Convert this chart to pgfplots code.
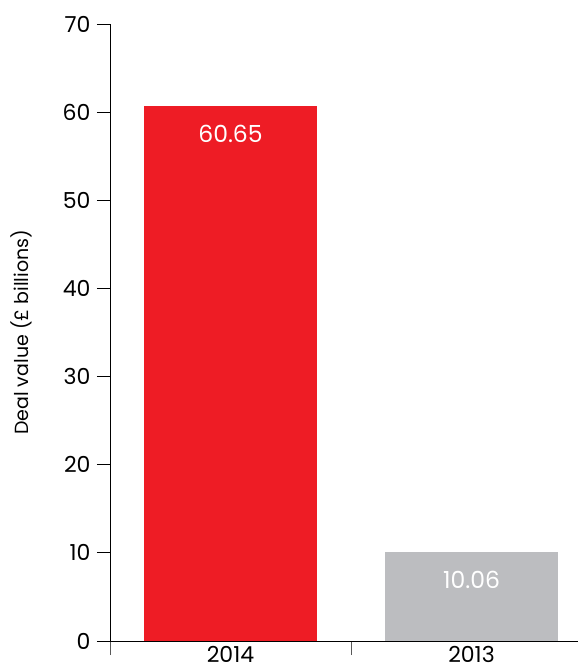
\documentclass[border=0pt]{standalone}
\usepackage{fontspec}
\setmainfont{Poppins}
\usepackage{pgfplots}
\pgfplotsset{compat=1.18}

\definecolor{dealred}{HTML}{EE1C25}
\definecolor{dealgrey}{HTML}{BCBDC0}

\begin{document}
\begin{tikzpicture}
\begin{axis}[
  scale only axis,
  width=468bp, height=617bp,
  xmin=-0.5, xmax=1.442,
  ymin=0, ymax=70,
  axis x line=bottom, axis y line=left,
  axis line style={-, black, line width=0.9pt},
  ytick={0,10,...,70},
  xtick={0,1},
  xticklabels={2014,2013},
  minor xtick={-0.5,0.5},
  tick align=outside,
  major tick length=13bp,
  minor tick length=14bp,
  xtick style={draw=none},
  ytick style={black, line width=0.8pt},
  minor x tick style={draw=gray!70!black, line width=0.6pt},
  /pgf/number format/assume math mode=true,
  ticklabel style={font=\fontsize{22bp}{26bp}\selectfont},
  yticklabel style={xshift=-3bp},
  xticklabel style={yshift=11.5bp},
  ylabel={Deal value (£ billions)},
  ylabel style={font=\fontsize{19bp}{23bp}\selectfont},
  ylabel shift=24bp,
  ybar, bar width=173bp, bar shift=0pt,
  clip=false,
  nodes near coords,
  point meta=explicit symbolic,
  every node near coord/.append style={anchor=north, yshift=-15bp, text=white,
    font=\fontsize{23.5bp}{27bp}\selectfont},
]
\addplot[fill=dealred, draw=none] coordinates {(0,60.65) [60.65]};
\addplot[fill=dealgrey, draw=none] coordinates {(1,10.06) [10.06]};
\coordinate (ll) at (rel axis cs:0,0);
\end{axis}
\pgfresetboundingbox
\path (ll) ++(-110bp,-24bp) rectangle ++(578bp,665bp);
\end{tikzpicture}
\end{document}
